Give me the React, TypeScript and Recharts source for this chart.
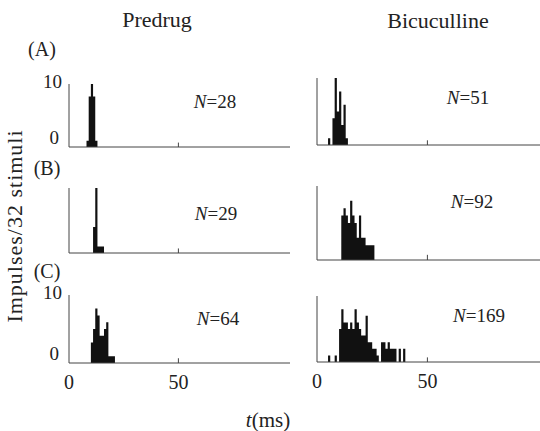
import React from 'react';
import { AreaChart, Area, XAxis, YAxis, ReferenceLine } from 'recharts';

// 1-ms bin edges, 0..101 ms
const binStarts: number[] = Array.from({ length: 102 }, (_, i) => i);

// Impulse counts per 1-ms bin (over 32 stimuli), starting at the onset bin
const predrugA_onset = 8;
const predrugA = [1, 8, 10, 8, 1];
const predrugB_onset = 11;
const predrugB = [4, 10, 1, 1, 1];
const predrugC_onset = 10;
const predrugC = [3, 5, 8, 7, 4, 4, 5, 6, 1, 1, 1];

const bicA_onset = 5;
const bicA = [1, 0, 4, 10, 5, 8, 3, 6, 1];
const bicB_onset = 11;
const bicB = [6, 7, 6, 5, 8, 6, 5, 3, 6, 3, 3, 2, 2, 2, 2];
const bicC_onset = 5;
const bicC = [1, 0, 0, 1, 0, 5, 8, 6, 6, 5, 6, 5, 8, 6, 5, 4, 4, 7, 3, 3, 2, 2, 1, 0, 3, 3, 2, 3, 2, 2, 2, 0, 2, 0, 2];

const nLabels = ['28', '29', '64', '51', '92', '169'];
const columnTitles = ['Predrug', 'Bicuculline'];
const rowLabels = ['(A)', '(B)', '(C)'];
const xTickValues = [0, 50];
const yTickValues = [0, 10];

const toBins = (onset: number, counts: number[]) =>
  binStarts.map((t) => ({ t, v: counts[t - onset] ?? 0 }));

const FONT = '"Liberation Serif", "Times New Roman", serif';
const TEXT = '#222';
const AXIS = '#444';
const BAR = '#111';
const LEFT_W = 40;
const TOP_PAD = 22;

type PanelProps = {
  data: { t: number; v: number }[];
  axisX: number;
  axisRight: number;
  top: number;
  base: number;
  showY: boolean;
  showX: boolean;
};

const Panel = ({ data, axisX, axisRight, top, base, showY, showX }: PanelProps) => {
  const bottomH = showX ? 34 : 2;
  const width = LEFT_W + (axisRight - axisX);
  const height = TOP_PAD + (base - top) + bottomH;

  const xTick = (props: any) => {
    const { x, y, payload } = props;
    return (
      <text x={x} y={y + 18} textAnchor="middle" fontFamily={FONT} fontSize={20} fill={TEXT}>
        {payload.value}
      </text>
    );
  };
  const yTick = (props: any) => {
    const { x, y, payload } = props;
    if (payload.value === 10) {
      return (
        <text x={x + 1} y={y + 4} textAnchor="end" fontFamily={FONT} fontSize={19} fill={TEXT}>
          10
        </text>
      );
    }
    return (
      <text x={x - 2} y={y - 3} textAnchor="end" fontFamily={FONT} fontSize={19} fill={TEXT}>
        0
      </text>
    );
  };

  return (
    <div style={{ position: 'absolute', left: axisX - LEFT_W, top: top - TOP_PAD }}>
      <AreaChart
        width={width}
        height={height}
        data={data}
        margin={{ top: TOP_PAD, right: 0, bottom: 0, left: 0 }}
        style={{ overflow: 'visible' }}
      >
        <XAxis
          dataKey="t"
          type="number"
          domain={[0, 101]}
          ticks={xTickValues}
          interval={0}
          allowDataOverflow
          height={bottomH}
          axisLine={{ stroke: AXIS, strokeWidth: 1 }}
          tickLine={false}
          tick={showX ? xTick : false}
        />
        <YAxis
          type="number"
          domain={[0, 10]}
          ticks={yTickValues}
          interval={0}
          width={LEFT_W}
          allowDataOverflow
          axisLine={{ stroke: AXIS, strokeWidth: 1 }}
          tickLine={false}
          tick={showY ? yTick : false}
        />
        <Area
          dataKey="v"
          type="stepAfter"
          fill={BAR}
          fillOpacity={1}
          stroke="none"
          baseValue={0}
          isAnimationActive={false}
          dot={false}
          activeDot={false}
        />
        <ReferenceLine
          segment={[
            { x: 50, y: 0 },
            { x: 50, y: 0.7 },
          ]}
          stroke={AXIS}
          ifOverflow="visible"
        />
      </AreaChart>
    </div>
  );
};

const Label = ({ cx, cy, children, size = 19, spacing = 0 }: { cx: number; cy: number; children: React.ReactNode; size?: number; spacing?: number }) => (
  <div
    style={{
      position: 'absolute',
      left: cx,
      top: cy,
      transform: 'translate(-50%, -50%)',
      fontFamily: FONT,
      fontSize: size,
      letterSpacing: spacing,
      color: TEXT,
      whiteSpace: 'nowrap',
      lineHeight: 1,
    }}
  >
    {children}
  </div>
);

const NLabel = ({ cx, cy, n }: { cx: number; cy: number; n: string }) => (
  <Label cx={cx} cy={cy}>
    <i>N</i>={n}
  </Label>
);

export default function App() {
  return (
    <div style={{ position: 'absolute', left: 0, top: 0, width: 540, height: 431, background: '#fff', overflow: 'hidden' }}>
      <Label cx={157} cy={20} size={22}>{columnTitles[0]}</Label>
      <Label cx={438} cy={21} size={22}>{columnTitles[1]}</Label>

      <Label cx={42} cy={49} size={20}>{rowLabels[0]}</Label>
      <Label cx={47} cy={168} size={20}>{rowLabels[1]}</Label>
      <Label cx={47} cy={271} size={20}>{rowLabels[2]}</Label>

      <Panel data={toBins(predrugA_onset, predrugA)} axisX={69} axisRight={290} top={84} base={147} showY showX={false} />
      <Panel data={toBins(predrugB_onset, predrugB)} axisX={69} axisRight={290} top={188} base={253} showY={false} showX={false} />
      <Panel data={toBins(predrugC_onset, predrugC)} axisX={69} axisRight={290} top={295} base={363} showY showX />

      <Panel data={toBins(bicA_onset, bicA)} axisX={317} axisRight={540} top={78} base={145} showY={false} showX={false} />
      <Panel data={toBins(bicB_onset, bicB)} axisX={317} axisRight={540} top={186} base={260} showY={false} showX={false} />
      <Panel data={toBins(bicC_onset, bicC)} axisX={317} axisRight={540} top={296} base={362} showY={false} showX />

      <NLabel cx={215} cy={101} n={nLabels[0]} />
      <NLabel cx={216} cy={213} n={nLabels[1]} />
      <NLabel cx={218} cy={318} n={nLabels[2]} />
      <NLabel cx={468} cy={97} n={nLabels[3]} />
      <NLabel cx={472} cy={201} n={nLabels[4]} />
      <NLabel cx={479} cy={315} n={nLabels[5]} />

      <div
        style={{
          position: 'absolute',
          left: 15,
          top: 226,
          transform: 'translate(-50%, -50%) rotate(-90deg)',
          fontFamily: FONT,
          fontSize: 22,
          letterSpacing: 1,
          color: TEXT,
          whiteSpace: 'nowrap',
          lineHeight: 1,
        }}
      >
        Impulses/32 stimuli
      </div>

      <Label cx={268} cy={420} size={21}>
        <i>t</i>(ms)
      </Label>
    </div>
  );
}
